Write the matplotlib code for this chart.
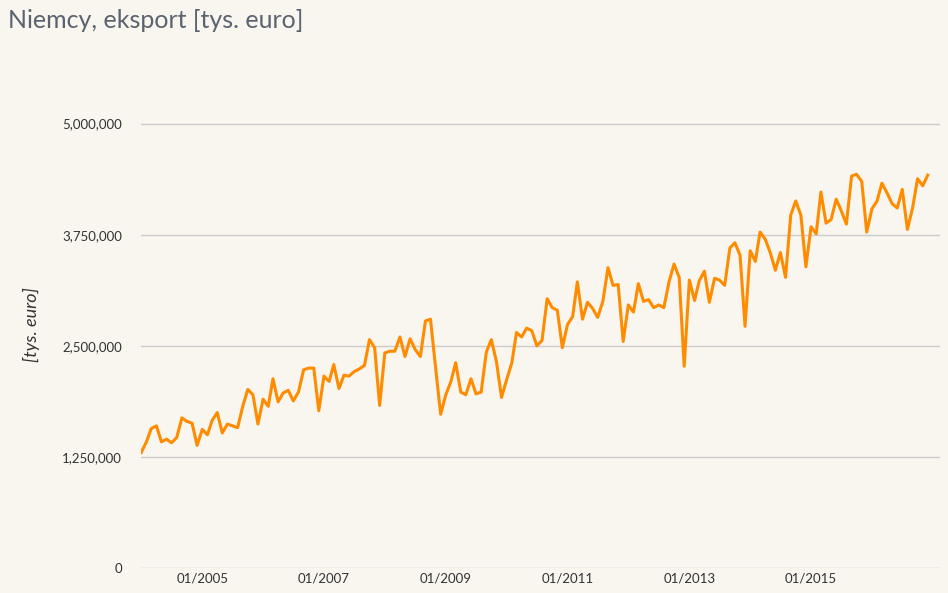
import numpy as np
import matplotlib
matplotlib.use("Agg")
from matplotlib import pyplot as plt
import matplotlib.dates as mdates
from matplotlib.ticker import FuncFormatter

# monthly exports, millions of thousand euro, 01/2004 - 12/2016
values_mln = [
    1.30,1.42,1.57,1.60,1.42,1.45,1.41,1.47,1.69,1.65,1.63,1.38,
    1.56,1.50,1.66,1.75,1.52,1.62,1.60,1.58,1.82,2.01,1.95,1.62,
    1.90,1.82,2.13,1.87,1.97,2.00,1.88,1.98,2.23,2.25,2.25,1.77,
    2.16,2.10,2.29,2.02,2.17,2.16,2.21,2.24,2.28,2.57,2.48,1.83,
    2.42,2.44,2.44,2.60,2.38,2.58,2.46,2.38,2.78,2.80,2.25,1.73,
    1.95,2.10,2.31,1.98,1.95,2.13,1.96,1.98,2.43,2.57,2.32,1.92,
    2.12,2.31,2.65,2.60,2.70,2.67,2.50,2.56,3.03,2.93,2.90,2.48,
    2.74,2.83,3.22,2.80,2.99,2.92,2.82,3.00,3.38,3.18,3.19,2.55,
    2.96,2.88,3.20,3.00,3.02,2.93,2.96,2.93,3.22,3.42,3.27,2.27,
    3.24,3.01,3.23,3.34,2.99,3.26,3.24,3.18,3.60,3.66,3.52,2.72,
    3.57,3.45,3.78,3.70,3.55,3.35,3.55,3.27,3.97,4.13,3.97,3.39,
    3.84,3.76,4.23,3.88,3.92,4.15,4.02,3.87,4.41,4.43,4.35,3.78,
    4.04,4.13,4.33,4.22,4.10,4.05,4.26,3.81,4.05,4.38,4.30,4.42,
]
dates = np.arange("2004-01", "2017-01", dtype="datetime64[M]").astype("datetime64[D]")
values = np.array(values_mln) * 1e6
yticks = [0, 1250000, 2500000, 3750000, 5000000]
xtick_years = [2005, 2007, 2009, 2011, 2013, 2015]

bg = "#f9f5ef"
fig = plt.figure(figsize=(9.48, 5.93), dpi=100, facecolor=bg)
ax = fig.add_axes([0.149, 0.042, 0.843, 0.82], facecolor=bg)
plt.rcParams['font.family'] = ['Lato', 'DejaVu Sans']

ax.plot(dates, values, color="#ff8c00", lw=2.2, zorder=3)

ax.set_ylim(0, 5470000)
ax.set_xlim(dates[0], np.datetime64("2017-02-15"))
ax.set_yticks(yticks)
ax.yaxis.set_major_formatter(FuncFormatter(lambda v, p: f"{int(v):,}"))
ax.set_xticks([np.datetime64(f"{y}-01-01") for y in xtick_years])
ax.xaxis.set_major_formatter(mdates.DateFormatter("%m/%Y"))
ax.grid(axis="y", color="#cccccc", lw=1)
for s in ax.spines.values():
    s.set_visible(False)
ax.tick_params(length=0, labelsize=9.5, colors="#333333", labelfontfamily="Lato")
ax.tick_params(axis="y", pad=14)
ax.set_ylabel("[tys. euro]", fontsize=13, style="italic", color="#333333", labelpad=16, fontfamily="Lato")

fig.text(0.008, 0.985, "Niemcy, eksport [tys. euro]", fontsize=18, color="#5a6470",
         va="top", ha="left", fontfamily="Lato")

plt.savefig("out.png", dpi=100, facecolor=bg)
